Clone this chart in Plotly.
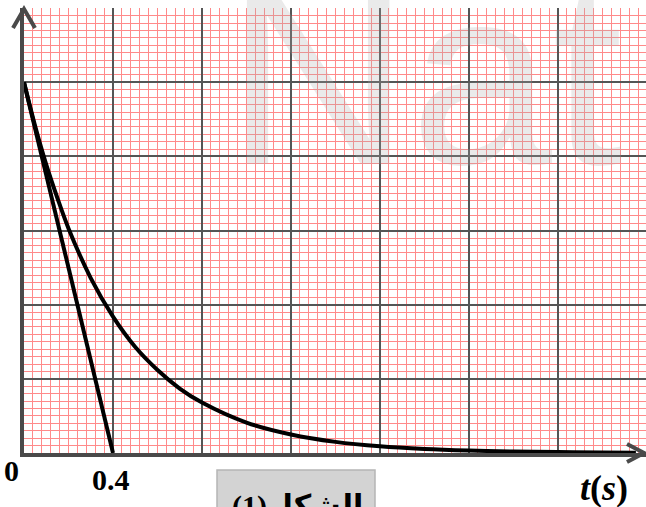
import plotly.graph_objects as go

# ---- data ----
t_curve = [0.0, 0.05, 0.1, 0.15, 0.2, 0.3, 0.4, 0.5, 0.6, 0.7, 0.8, 1.0, 1.2, 1.4, 1.6, 1.8, 2.0, 2.2, 2.4, 2.6, 2.75]
v_curve = [5.0, 4.41, 3.89, 3.44, 3.03, 2.36, 1.84, 1.43, 1.12, 0.87, 0.68, 0.41, 0.25, 0.15, 0.09, 0.055, 0.034, 0.02, 0.012, 0.008, 0.005]
t_tangent = [0.0, 0.4]
v_tangent = [5.0, 0.0]
x_labels = ["0", "0.4"]
x_label_pos = [0.0, 0.4]
axis_title = "<b><i>t</i>(<i>s</i>)</b>"
caption = "<b>الشكل(1)</b>"
watermark = "Nat"

W, H = 646, 507
L, R, T, B = 24, 0, 8, 54
PW, PH = W - L - R, H - T - B


def px(x):
    return (x - L) / PW


def py(y):
    return (H - B - y) / PH


fig = go.Figure()
fig.add_trace(go.Scatter(x=t_curve, y=v_curve, mode="lines", line=dict(color="black", width=4, shape="spline"),
                         hoverinfo="skip"))
fig.add_trace(go.Scatter(x=t_tangent, y=v_tangent, mode="lines", line=dict(color="black", width=4),
                         hoverinfo="skip"))

axcol = "#4a4a4a"
pink = "#ff8a8a"
fig.update_layout(
    width=W, height=H, margin=dict(l=L, r=R, t=T, b=B),
    paper_bgcolor="white", plot_bgcolor="white", showlegend=False,
    xaxis=dict(range=[0, 0.4 * PW / 89.0], tick0=0, dtick=0.4, showgrid=True, gridcolor="#555555", gridwidth=1.5,
               minor=dict(dtick=0.04, showgrid=True, gridcolor=pink, gridwidth=1),
               showticklabels=False, ticks="", zeroline=False, showline=True, linecolor=axcol, linewidth=4),
    yaxis=dict(range=[0, 6.003], tick0=0, dtick=1, showgrid=True, gridcolor="#555555", gridwidth=1.5,
               minor=dict(dtick=0.1, showgrid=True, gridcolor=pink, gridwidth=1),
               showticklabels=False, ticks="", zeroline=False, showline=True, linecolor=axcol, linewidth=4),
)

# arrowheads
fig.add_shape(type="path", xref="paper", yref="paper",
              path=f"M {px(13)} {py(28)} L {px(24)} {py(9)} L {px(35)} {py(28)}",
              line=dict(color=axcol, width=4))
fig.add_shape(type="path", xref="paper", yref="paper",
              path=f"M {px(627)} {py(444)} L {px(644)} {py(453)} L {px(627)} {py(462)}",
              line=dict(color=axcol, width=4))

# caption box
fig.add_shape(type="rect", xref="paper", yref="paper", x0=px(217), x1=px(375), y0=py(520), y1=py(470),
              fillcolor="#d3d3d3", line=dict(color="#b5b5b5", width=1.5), layer="above")

serif = "Liberation Serif, Times New Roman, serif"
anns = [
    dict(text="<b>" + x_labels[0] + "</b>", xref="paper", yref="paper", x=px(11), y=py(470), xanchor="center",
         yanchor="middle", font=dict(family=serif, size=30, color="black"), showarrow=False),
    dict(text="<b>" + x_labels[1] + "</b>", xref="x", yref="paper", x=x_label_pos[1], y=py(479), xanchor="center",
         yanchor="middle", xshift=-2, font=dict(family=serif, size=30, color="black"), showarrow=False),
    dict(text=axis_title, xref="paper", yref="paper", x=px(604), y=py(488), xanchor="center", yanchor="middle",
         font=dict(family=serif, size=36, color="black"), showarrow=False),
    dict(text=caption, xref="paper", yref="paper", x=px(297), y=py(506), xanchor="center", yanchor="middle",
         font=dict(family="Liberation Serif, DejaVu Sans, serif", size=30, color="black"), showarrow=False),
    dict(text=watermark, xref="paper", yref="paper", x=px(224), y=py(76), xanchor="left", yanchor="middle",
         font=dict(family="Liberation Sans, Arial, sans-serif", size=255, color="rgba(170,170,170,0.25)"),
         showarrow=False),
]
fig.update_layout(annotations=anns)

fig.write_html("out.html", config={"displayModeBar": False},
               post_script="document.body.style.margin='0';document.body.style.padding='0';")
